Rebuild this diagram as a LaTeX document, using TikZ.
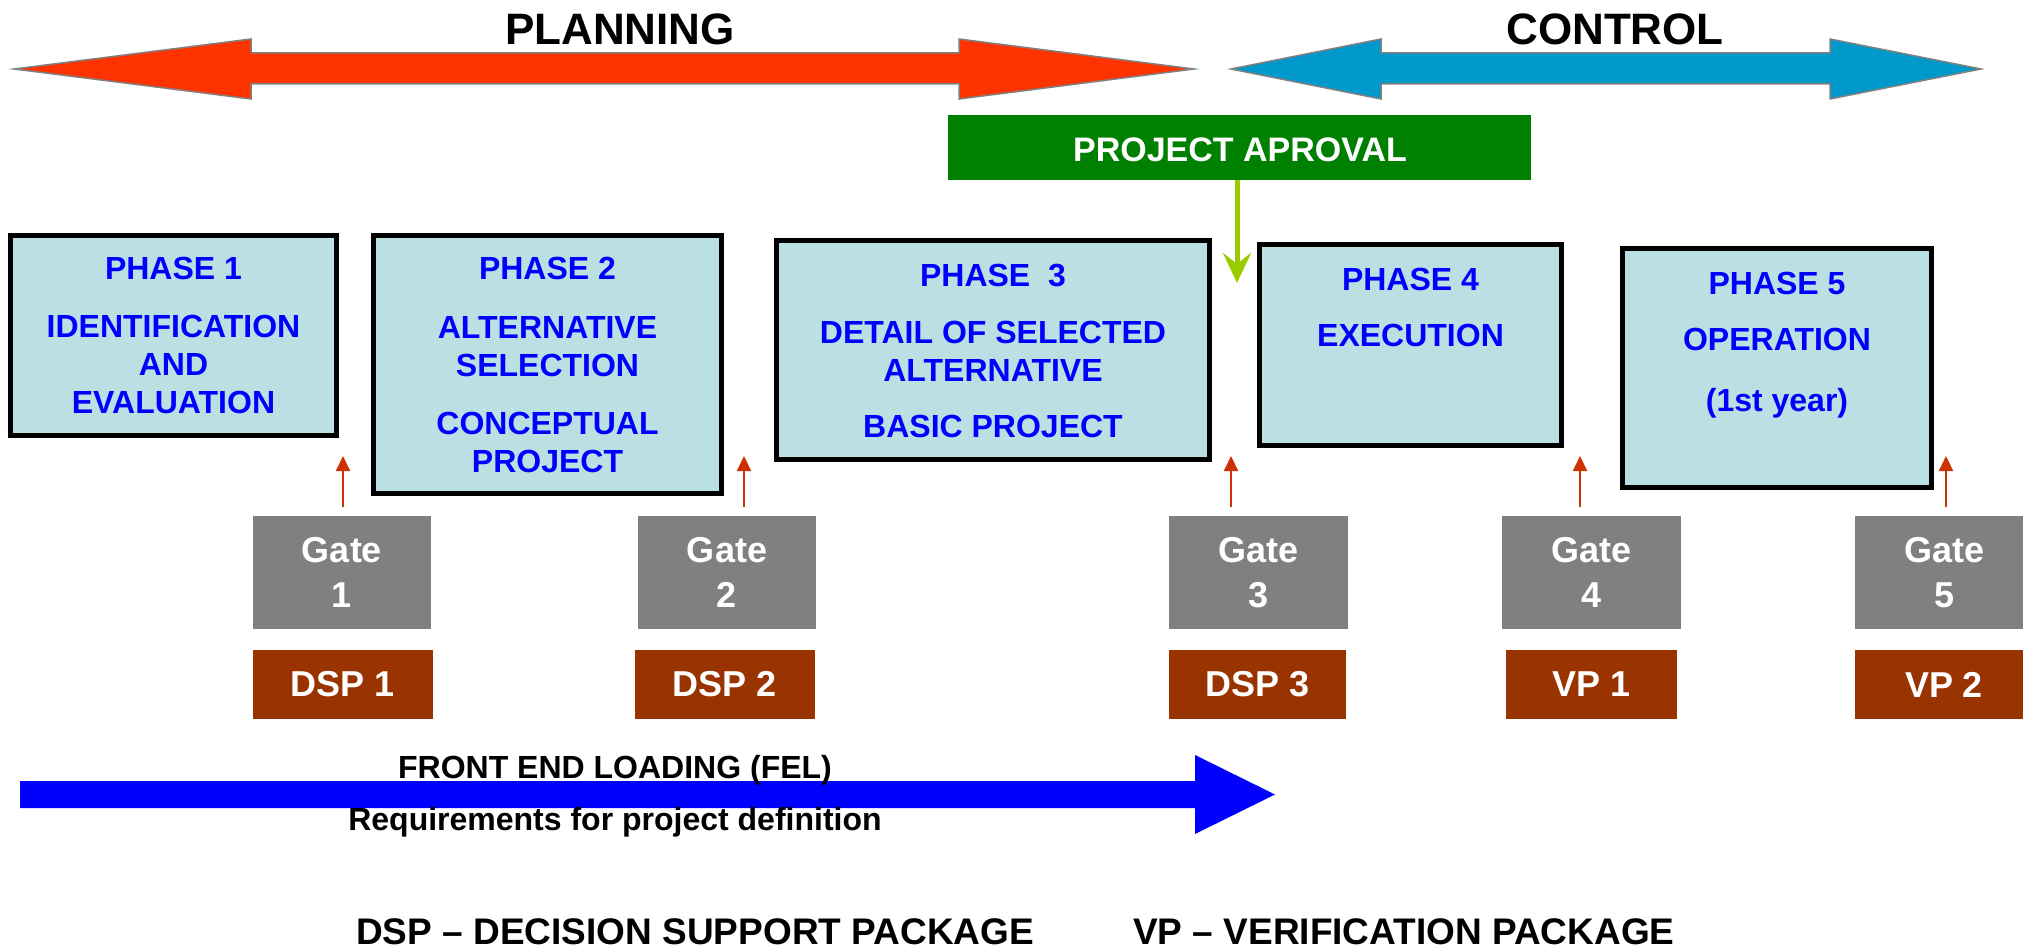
\documentclass[tikz,border=0pt]{standalone}
\usepackage{fontspec}
\setmainfont{Liberation Sans}
\usetikzlibrary{arrows.meta}
\definecolor{planred}{HTML}{FF3300}
\definecolor{ctrlblue}{HTML}{0099CC}
\definecolor{aprgreen}{HTML}{008000}
\definecolor{limegr}{HTML}{99CC00}
\definecolor{phasefill}{HTML}{BBE0E3}
\definecolor{gategray}{HTML}{808080}
\definecolor{dspbrown}{HTML}{993300}
\definecolor{smallred}{HTML}{CC3300}
\definecolor{felblue}{HTML}{0000FF}
\begin{document}
\begin{tikzpicture}[x=1pt,y=-1pt,
  phasebox/.style={draw=black, line width=5pt, fill=phasefill, inner sep=0pt},
  phasetext/.style={anchor=north, inner sep=0pt, align=center, text=felblue,
    font=\fontsize{32}{38}\selectfont\bfseries},
  gatebox/.style={fill=gategray, text=white, inner sep=0pt, minimum height=113pt,
    align=center, font=\fontsize{36}{45}\selectfont\bfseries},
  pkgbox/.style={fill=dspbrown, text=white, inner sep=0pt, minimum height=69pt,
    font=\fontsize{36}{43}\selectfont\bfseries},
  gatearrow/.style={draw=smallred, line width=2pt, -{Triangle[length=15pt,width=14pt]}},
  bigarrow/.style={draw=gray, line width=1.5pt},
  titletext/.style={anchor=base, inner sep=0pt, font=\fontsize{44}{50}\selectfont\bfseries},
  feltext/.style={anchor=base, inner sep=0pt, font=\fontsize{32}{38}\selectfont\bfseries},
  legendtext/.style={anchor=base west, inner sep=0pt, font=\fontsize{37}{44}\selectfont\bfseries},
]
\useasboundingbox (0,0) rectangle (2023,949);
\clip (0,0) rectangle (2023,949);

% PLANNING double arrow
\draw[bigarrow, fill=planred] (14,69) -- (251,39) -- (251,53) -- (959,53) -- (959,39)
  -- (1194,69) -- (959,99) -- (959,84) -- (251,84) -- (251,99) -- cycle;
\node[titletext] (plan) at (620,45) {PLANNING};

% CONTROL double arrow
\draw[bigarrow, fill=ctrlblue] (1231,69) -- (1381,39) -- (1381,53) -- (1830,53) -- (1830,39)
  -- (1981,69) -- (1830,99) -- (1830,84) -- (1381,84) -- (1381,99) -- cycle;
\node[titletext] (ctrl) at (1615,45) {CONTROL};

% Project approval
\node[fill=aprgreen, minimum width=583pt, minimum height=65pt, inner sep=0pt] (apr) at (1239.5,147.5) {};
\node[anchor=base, inner sep=0pt, text=white, font=\fontsize{34}{40}\selectfont\bfseries] (aprt) at (1240,161.5) {PROJECT APROVAL};
\coordinate (aprin) at (1237,283);
\draw[draw=limegr, line width=5pt, -{Stealth[length=30pt,width=28pt,inset=11pt]}] (apr.south -| aprin) -- (aprin);

% Phase boxes
\node[phasebox, minimum width=326pt, minimum height=200pt] (p1) at (173.5,335.5) {};
\node[phasebox, minimum width=348pt, minimum height=258pt] (p2) at (547.5,364.5) {};
\node[phasebox, minimum width=433pt, minimum height=219pt] (p3) at (993,350) {};
\node[phasebox, minimum width=302pt, minimum height=201pt] (p4) at (1410.5,345) {};
\node[phasebox, minimum width=309pt, minimum height=239pt] (p5) at (1777,368) {};

\node[phasetext] (p1t) at (173.5,256.5) {PHASE 1\\[20pt]IDENTIFICATION\\AND\\EVALUATION};
\node[phasetext] (p2t) at (547.5,256.5) {PHASE 2\\[21pt]ALTERNATIVE\\SELECTION\\[20pt]CONCEPTUAL\\PROJECT};
\node[phasetext] (p3t) at (993,263.5) {PHASE~\ 3\\[19pt]DETAIL OF SELECTED\\ALTERNATIVE\\[18pt]BASIC PROJECT};
\node[phasetext] (p4t) at (1410.5,267.5) {PHASE 4\\[18pt]EXECUTION};
\node[phasetext] (p5t) at (1777,271.5) {PHASE 5\\[18pt]OPERATION\\[23pt](1st year)};

% Gates
\node[gatebox, minimum width=178pt] (g1) at (342,572.5) {Gate\\1};
\node[gatebox, minimum width=178pt] (g2) at (727,572.5) {Gate\\2};
\node[gatebox, minimum width=179pt] (g3) at (1258.5,572.5) {Gate\\3};
\node[gatebox, minimum width=179pt] (g4) at (1591.5,572.5) {Gate\\4};
\node[gatebox, minimum width=178pt] (g5) at (1944,572.5) {Gate\\5};

% Packages
\node[pkgbox, minimum width=180pt] (d1) at (343,684.5) {DSP 1};
\node[pkgbox, minimum width=180pt] (d2) at (725,684.5) {DSP 2};
\node[pkgbox, minimum width=177pt] (d3) at (1257.5,684.5) {DSP 3};
\node[pkgbox, minimum width=171pt] (v1) at (1591.5,684.5) {VP 1};
\node[pkgbox, minimum width=178pt] (v2) at (1944,684.5) {VP 2};

% small gate arrows
\foreach \i/\xx in {1/343, 2/744, 3/1231, 4/1580, 5/1946} {
  \coordinate (ga\i s) at (\xx,507);
  \coordinate (ga\i e) at (\xx,456);
  \draw[gatearrow] (ga\i s) -- (ga\i e);
}

% FEL arrow
\fill[felblue] (20,781) -- (1195,781) -- (1195,755) -- (1275,794.5) -- (1195,834)
  -- (1195,808) -- (20,808) -- cycle;
\node[feltext] (fel) at (615,778) {FRONT END LOADING (FEL)};
\node[feltext] (req) at (615,830) {Requirements for project definition};

% Legend
\node[legendtext] (ldsp) at (356,944) {DSP -- DECISION SUPPORT PACKAGE};
\node[legendtext] (lvp) at (1133,944) {VP -- VERIFICATION PACKAGE};
\end{tikzpicture}
\end{document}
